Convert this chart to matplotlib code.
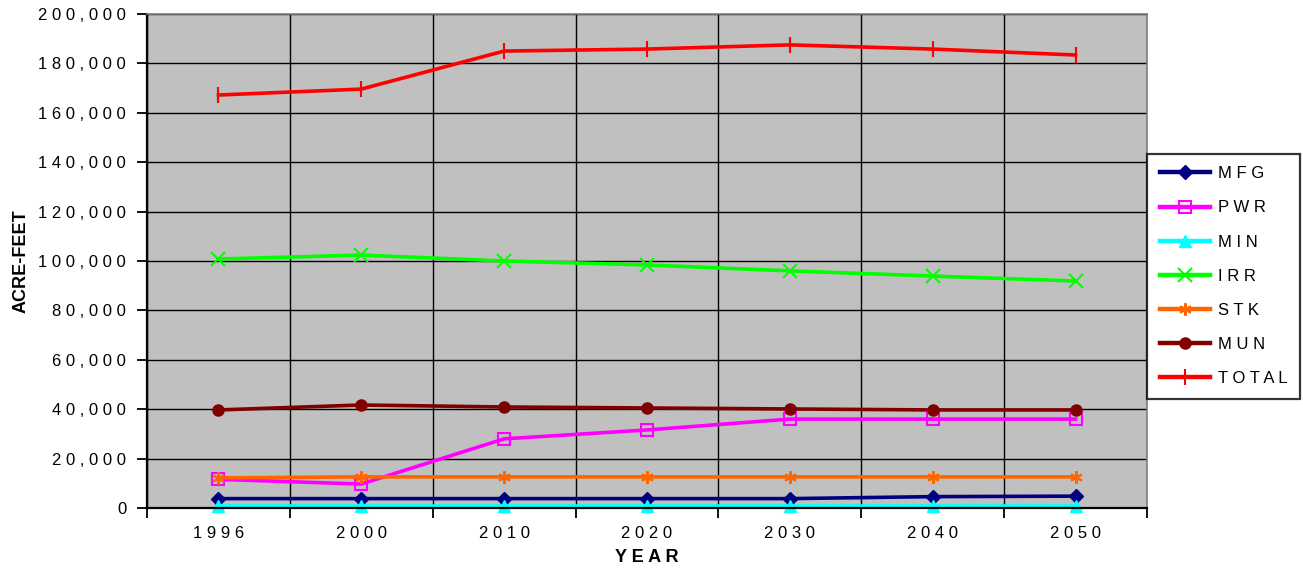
import matplotlib.pyplot as plt
import numpy as np
from matplotlib.ticker import FixedLocator, FuncFormatter

plt.rcParams['font.family'] = ['Liberation Sans', 'DejaVu Sans']

years = ["1996", "2000", "2010", "2020", "2030", "2040", "2050"]

mfg = [3800, 3800, 3800, 3800, 3800, 4600, 4800]
pwr = [11600, 9700, 28000, 31600, 36000, 36000, 36000]
mining = [1000, 1000, 1000, 1000, 1000, 1000, 1000]
irr = [100800, 102400, 100000, 98400, 96000, 93900, 91900]
stk = [12200, 12600, 12600, 12600, 12600, 12600, 12600]
mun = [39700, 41700, 40900, 40500, 40100, 39700, 39700]
total = [167200, 169600, 185000, 185800, 187500, 185800, 183400]

def spaced(s):
	return " ".join(s)

fig = plt.figure(figsize=(13.03, 5.75), dpi=100)
ax = fig.add_axes([147/1303, 1 - 508/575, 1000/1303, 494/575])
ax.set_facecolor("#C0C0C0")

x = np.arange(len(years))
lw = 2.6
ax.plot(x, mfg, color="#000080", lw=lw, marker="D", ms=7, label=spaced("MFG"))
ax.plot(x, pwr, color="#FF00FF", lw=lw, marker="s", ms=8, mfc="none", mew=1.5, label=spaced("PWR"))
ax.plot(x, mining, color="#00FFFF", lw=lw, marker="^", ms=9, label=spaced("MIN"), clip_on=False)
ax.plot(x, irr, color="#00FF00", lw=lw, marker="x", ms=10, mew=1.5, label=spaced("IRR"))
ax.plot(x, stk, color="#FF6600", lw=lw, marker=(6, 2, 0), ms=9, mew=1.5, label=spaced("STK"))
ax.plot(x, mun, color="#800000", lw=lw, marker="o", ms=8, label=spaced("MUN"))
ax.plot(x, total, color="#FF0000", lw=lw, marker="|", ms=12, mew=1.5, label=spaced("TOTAL"))

ax.set_xlim(-0.5, len(years) - 0.5)
ax.set_ylim(0, 200000)

# category boundaries carry the ticks and grid, centers carry the labels
ax.xaxis.set_major_locator(FixedLocator(np.arange(-0.5, len(years), 1.0)))
ax.xaxis.set_minor_locator(FixedLocator(x))
ax.set_xticklabels([])
ax.set_xticklabels([spaced(y) for y in years], minor=True)
ax.tick_params(axis="x", which="major", direction="out", length=7, width=1.3, color="black")
ax.tick_params(axis="x", which="minor", length=0, pad=13, labelsize=12)

ax.yaxis.set_major_locator(FixedLocator(np.arange(0, 200001, 20000)))
ax.yaxis.set_major_formatter(FuncFormatter(lambda v, p: spaced(f"{int(v):,}")))
ax.tick_params(axis="y", direction="out", length=7, width=1.3, labelsize=12, pad=8)

ax.grid(True, which="major", color="black", lw=1.0)
ax.set_axisbelow(True)

for s in ["left", "bottom"]:
	ax.spines[s].set_color("black")
	ax.spines[s].set_linewidth(1.6)
for s in ["top", "right"]:
	ax.spines[s].set_color("#808080")
	ax.spines[s].set_linewidth(1.2)

ax.set_ylabel("ACRE-FEET", fontsize=13, fontweight="bold", labelpad=6)
ax.set_xlabel(spaced("YEAR"), fontsize=13, fontweight="bold", labelpad=6)

leg = ax.legend(loc="upper left", bbox_to_anchor=(1.0, 0.717), fontsize=12,
	frameon=True, fancybox=False, edgecolor="black", borderpad=0.75,
	labelspacing=1.15, handlelength=3.0, handletextpad=0.5, borderaxespad=0)
leg.get_frame().set_linewidth(1.6)
for h in leg.get_lines():
	h.set_linewidth(3.2)

fig.savefig("out.png", dpi=100)
